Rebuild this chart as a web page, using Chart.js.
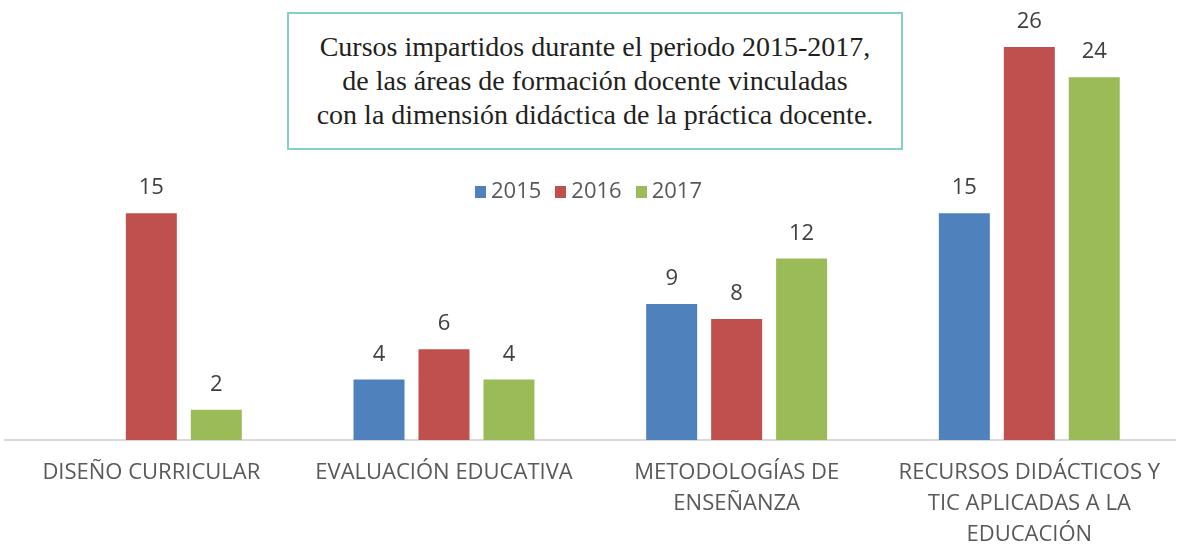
<!DOCTYPE html>
<html>
<head>
<meta charset="utf-8">
<script src="https://cdn.jsdelivr.net/npm/chart.js@4.4.0/dist/chart.umd.min.js"></script>
<style>
  html, body { margin: 0; padding: 0; background: #fff; }
  #wrap { position: relative; width: 1177px; height: 546px; }
  #titleBox {
    position: absolute; left: 287px; top: 12px; width: 612px; height: 134px;
    border: 2px solid #86cfc6; box-sizing: content-box;
    font-family: "Liberation Serif", "DejaVu Serif", serif; font-size: 28px;
    line-height: 34px; color: #231f20; text-align: center;
    display: flex; align-items: center; justify-content: center; background: #fff;
  }
  #legend {
    position: absolute; left: 0; width: 1177px; top: 174px; text-align: center;
    font-family: "Open Sans", "Noto Sans", sans-serif; font-size: 22px; color: #595959;
    line-height: 30px;
  }
  #legend span.item { margin: 0 7px; }
  #legend span.sw { display: inline-block; width: 11px; height: 12px; margin-right: 5px; }
</style>
</head>
<body>
<div id="wrap">
  <canvas id="chart" width="1177" height="546"></canvas>
  <div id="titleBox"><div>Cursos impartidos durante el periodo 2015-2017,<br>de las áreas de formación docente vinculadas<br>con la dimensión didáctica de la práctica docente.</div></div>
  <div id="legend"></div>
</div>
<script>
// --- Data ---
const categories = [
    ['DISEÑO CURRICULAR'],
    ['EVALUACIÓN EDUCATIVA'],
    ['METODOLOGÍAS DE', 'ENSEÑANZA'],
    ['RECURSOS DIDÁCTICOS Y', 'TIC APLICADAS A LA', 'EDUCACIÓN']
];
const seriesNames = ['2015', '2016', '2017'];
const values2015 = [0, 4, 9, 15];
const values2016 = [15, 6, 8, 26];
const values2017 = [2, 4, 12, 24];
const colors = ['#4f81bd', '#c0504d', '#9bbb59'];

// value labels above bars
const valueLabels = {
    id: 'valueLabels',
    afterDatasetsDraw(chart) {
        const ctx = chart.ctx;
        ctx.save();
        ctx.font = '22px "Open Sans", "Noto Sans", sans-serif';
        ctx.fillStyle = '#404040';
        ctx.textAlign = 'center';
        ctx.textBaseline = 'alphabetic';
        chart.data.datasets.forEach((ds, i) => {
            chart.getDatasetMeta(i).data.forEach((bar, j) => {
                const v = ds.data[j];
                if (!v) return;
                ctx.fillText(v, bar.x, bar.y - 19);
            });
        });
        ctx.restore();
    }
};

const allSeries = [values2015, values2016, values2017];

const chart = new Chart(document.getElementById('chart').getContext('2d'), {
    type: 'bar',
    data: {
        labels: categories,
        datasets: seriesNames.map((name, i) => ({
            label: name,
            data: allSeries[i],
            backgroundColor: colors[i],
            categoryPercentage: 0.666,
            barPercentage: 0.785
        }))
    },
    options: {
        responsive: false,
        animation: false,
        layout: { padding: { top: 47, left: 5, right: 0, bottom: 0 } },
        plugins: { legend: { display: false }, tooltip: { enabled: false } },
        scales: {
            y: { display: false, min: 0, max: 26 },
            x: {
                afterFit(scale) { scale.height = 106; },
                grid: { display: false, drawTicks: false },
                border: { display: true, color: '#d9d9d9', width: 2 },
                ticks: {
                    color: '#595959',
                    padding: 17,
                    maxRotation: 0,
                    autoSkip: false,
                    font: { family: '"Open Sans", "Noto Sans", sans-serif', size: 22, lineHeight: 1.41 }
                }
            }
        }
    },
    plugins: [valueLabels]
});

// HTML legend built from datasets
const legendEl = document.getElementById('legend');
chart.data.datasets.forEach(ds => {
    const item = document.createElement('span');
    item.className = 'item';
    item.innerHTML = '<span class="sw" style="background:' + ds.backgroundColor + '"></span>' + ds.label;
    legendEl.appendChild(item);
});
</script>
</body>
</html>
